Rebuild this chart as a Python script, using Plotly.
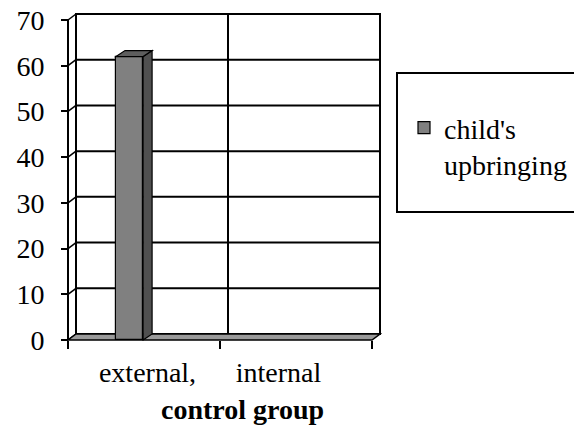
import plotly.graph_objects as go

categories = ["external,", "internal"]
series_name = "child's<br>upbringing"
values = [62, 0]
y_ticks = [0, 10, 20, 30, 40, 50, 60, 70]
x_title = "control group"

# The page body has an 8px default margin, so the figure is 8px smaller
# and every pixel position is shifted by -8.
OFF = 8
W, H = 582 - OFF, 427 - OFF
PX_X = 152.0          # pixels per category unit
PX_Y = 320.0 / 70.0   # pixels per value unit
DX = 8 / PX_X         # depth offset (x units)
DY = 6 / PX_Y         # depth offset (y units)
BDX = 9 / PX_X
PADX = 2 / PX_X
PADY = 2 / PX_Y
YMAX = y_ticks[-1]
X0, X1 = -0.5, len(categories) - 0.5

FONT = "Liberation Serif"
FS = 28
BLACK = "#000000"

fig = go.Figure()
fig.add_trace(go.Bar(
    x=categories, y=values, name=series_name,
    width=0.178, offset=-0.184,
    marker=dict(color="#808080",
                line=dict(color=BLACK, width=[1.2 if v > 0 else 0 for v in values])),
    showlegend=True,
))

shapes = []
# back wall
shapes.append(dict(type="rect", xref="x", yref="y", layer="below",
                   x0=X0 + DX, x1=X1 + DX, y0=DY, y1=YMAX + DY,
                   line=dict(color=BLACK, width=2), fillcolor="white"))
# back wall horizontal gridlines
for v in y_ticks[1:-1]:
    shapes.append(dict(type="line", xref="x", yref="y", layer="below",
                       x0=X0 + DX, x1=X1 + DX, y0=v + DY, y1=v + DY,
                       line=dict(color=BLACK, width=2)))
# back wall vertical separators between categories
for i in range(1, len(categories)):
    shapes.append(dict(type="line", xref="x", yref="y", layer="below",
                       x0=i - 0.5 + DX, x1=i - 0.5 + DX, y0=DY, y1=YMAX + DY,
                       line=dict(color=BLACK, width=2)))
# left side wall: front edge and diagonals
shapes.append(dict(type="line", xref="x", yref="y", layer="below",
                   x0=X0, x1=X0, y0=0, y1=YMAX, line=dict(color=BLACK, width=2)))
for v in y_ticks:
    shapes.append(dict(type="line", xref="x", yref="y", layer="below",
                       x0=X0, x1=X0 + DX, y0=v, y1=v + DY,
                       line=dict(color=BLACK, width=1.5)))
# floor
shapes.append(dict(type="path", xref="x", yref="y", layer="below",
                   path=f"M {X0} 0 L {X1} 0 L {X1 + DX} {DY} L {X0 + DX} {DY} Z",
                   fillcolor="#9a9a9a", line=dict(color=BLACK, width=1.5)))
# 3D faces of bars
for i, v in enumerate(values):
    if v <= 0:
        continue
    a = i - 0.184
    b = a + 0.178
    shapes.append(dict(type="path", xref="x", yref="y", layer="above",
                       path=f"M {b} 0 L {b + BDX} {DY} L {b + BDX} {v + DY} L {b} {v} Z",
                       fillcolor="#505050", line=dict(color=BLACK, width=1.2)))
    shapes.append(dict(type="path", xref="x", yref="y", layer="above",
                       path=f"M {a} {v} L {a + BDX} {v + DY} L {b + BDX} {v + DY} L {b} {v} Z",
                       fillcolor="#5e5e5e", line=dict(color=BLACK, width=1.2)))

# margins (in page pixels minus offset)
L, R, T, B = 66 - OFF, 200, 12 - OFF, 85
pw, ph = W - L - R, H - T - B
def px2paper_x(px):
    return (px - OFF - L) / pw
def px2paper_y(py):
    return (H - B - (py - OFF)) / ph

# legend frame
shapes.append(dict(type="rect", xref="paper", yref="paper", layer="below",
                   x0=px2paper_x(397), x1=px2paper_x(575),
                   y0=px2paper_y(212), y1=px2paper_y(73),
                   line=dict(color=BLACK, width=2), fillcolor="white"))

ticktext = ["\u00a0" + categories[0], categories[1] + "\u00a0" * 5]

fig.update_layout(
    width=W, height=H,
    margin=dict(l=L, r=R, t=T, b=B, autoexpand=False),
    paper_bgcolor="white", plot_bgcolor="rgba(0,0,0,0)",
    font=dict(family=FONT, size=FS, color=BLACK),
    shapes=shapes,
    showlegend=True,
    legend=dict(x=px2paper_x(404), y=px2paper_y(103), xanchor="left", yanchor="top",
                bgcolor="rgba(0,0,0,0)", borderwidth=0, valign="top",
                font=dict(family=FONT, size=FS, color=BLACK)),
    xaxis=dict(type="category", range=[X0 - PADX, X1 + DX + PADX],
               tickson="boundaries", ticks="outside", ticklen=8, tickwidth=2,
               tickcolor=BLACK, showgrid=False, showline=False, zeroline=False,
               tickmode="array", tickvals=categories, ticktext=ticktext,
               tickangle=0, automargin=False, ticklabeloverflow="allow",
               anchor="free", position=PADY * PX_Y / ph,
               ticklabelstandoff=13,
               tickfont=dict(family=FONT, size=FS, color=BLACK)),
    yaxis=dict(range=[-PADY, YMAX + DY + PADY], tickvals=y_ticks,
               ticks="outside", ticklen=7, tickwidth=2, tickcolor=BLACK,
               showgrid=False, showline=False, zeroline=False, automargin=False,
               ticklabeloverflow="allow",
               anchor="free", position=PADX * PX_X / pw,
               ticklabelstandoff=11,
               tickfont=dict(family=FONT, size=FS, color=BLACK)),
    annotations=[dict(text=f"<b>{x_title}</b>", xref="paper", yref="paper",
                      x=px2paper_x(242), y=px2paper_y(427), xanchor="center",
                      yanchor="bottom", showarrow=False,
                      font=dict(family=FONT, size=FS, color=BLACK))],
    bargap=0,
)

fig.write_html("out.html")
